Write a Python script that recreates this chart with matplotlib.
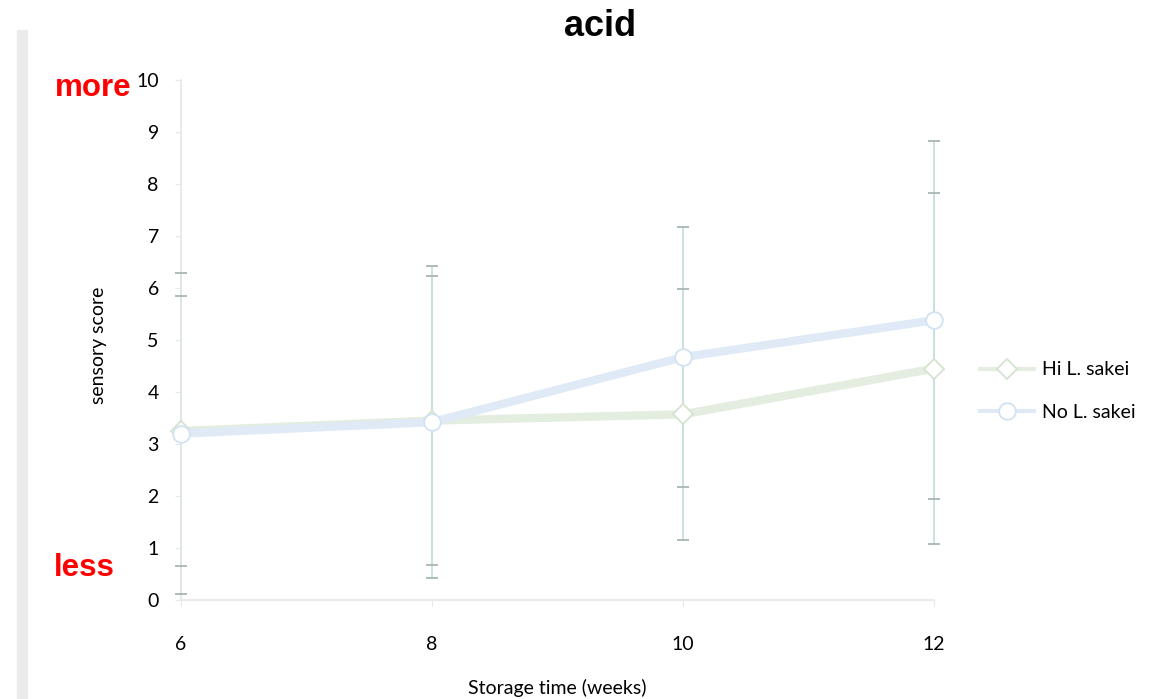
import numpy as np
import matplotlib.pyplot as plt
from matplotlib.patches import Rectangle
from matplotlib.lines import Line2D

# data
weeks = [6, 8, 10, 12]
hi_mean = [3.25, 3.45, 3.57, 4.45]
hi_err = [2.6, 2.78, 2.41, 3.37]
no_mean = [3.2, 3.42, 4.67, 5.38]
no_err = [3.09, 3.0, 2.5, 3.44]
series_names = ['Hi L. sakei', 'No L. sakei']

green = '#e3ede0'
blue = '#dfeaf6'
bar_col = '#cadfe0'
cap_col = '#a2b0b0'

fig = plt.figure(figsize=(11.53, 6.99), dpi=100)
ax = fig.add_axes([181/1153, 1 - 600/699, (934 - 181)/1153, 520/699])

# error bars first
for m, e in [(hi_mean, hi_err), (no_mean, no_err)]:
    ax.errorbar(weeks, m, yerr=e, fmt='none', ecolor=bar_col, elinewidth=1.3,
                capsize=0, zorder=2, clip_on=False)
    lo = np.array(m) - np.array(e)
    hi = np.array(m) + np.array(e)
    ax.hlines(np.concatenate([lo, hi]), np.array(weeks * 2) - 0.045, np.array(weeks * 2) + 0.045,
              color=cap_col, lw=1.2, zorder=3, clip_on=False)

ax.plot(weeks, hi_mean, color=green, lw=6, marker='D', markersize=10,
        markerfacecolor='white', markeredgecolor='#d3e3cf', markeredgewidth=1.3,
        zorder=4, clip_on=False)
ax.plot(weeks, no_mean, color=blue, lw=6, marker='o', markersize=12,
        markerfacecolor='white', markeredgecolor='#d2e2f2', markeredgewidth=1.3,
        zorder=5, clip_on=False)

ax.set_xlim(6, 12)
ax.set_ylim(0, 10)
ax.set_xticks(weeks)
ax.set_yticks(range(0, 11))
for s in ['top', 'right']:
    ax.spines[s].set_visible(False)
for s in ['left', 'bottom']:
    ax.spines[s].set_color('#e4e8e8')
    ax.spines[s].set_linewidth(1.2)
ax.tick_params(axis='y', length=4, color='#e4e8e8', pad=12, labelsize=14)
ax.tick_params(axis='x', length=4, color='#e4e8e8', pad=22, labelsize=14)
for lab in ax.get_xticklabels() + ax.get_yticklabels():
    lab.set_fontfamily('Lato')

ax.set_ylabel('sensory score', fontsize=14, fontfamily='Lato')
ax.yaxis.set_label_coords(-(181 - 107) / 753, (600 - 345) / 520)
ax.set_xlabel('Storage time (weeks)', fontsize=14, fontfamily='Lato', va='center')
ax.xaxis.set_label_coords((557 - 181) / 753, -(688 - 600) / 520)

fig.text(600/1153, 1 - 27/699, 'acid', ha='center', va='center', fontsize=26,
         fontweight='bold', fontfamily='Liberation Sans')
fig.text(55/1153, 1 - 88/699, 'more', ha='left', va='center', fontsize=22.5,
         fontweight='bold', color='red', fontfamily='Liberation Sans')
fig.text(54/1153, 1 - 568/699, 'less', ha='left', va='center', fontsize=22.5,
         fontweight='bold', color='red', fontfamily='Liberation Sans')

# grey strip on the left
fig.patches.append(Rectangle((17/1153, 0), 10/1153, 1 - 30/699, transform=fig.transFigure,
                             color='#ebebeb', zorder=0))

handles = [
    Line2D([], [], color=green, lw=3, marker='D', markersize=10, markerfacecolor='white',
           markeredgecolor='#d3e3cf', markeredgewidth=1.3),
    Line2D([], [], color=blue, lw=3, marker='o', markersize=12, markerfacecolor='white',
           markeredgecolor='#d2e2f2', markeredgewidth=1.3),
]
leg = fig.legend(handles, series_names, loc='center left', bbox_to_anchor=(980/1153, 1 - 391/699),
                 frameon=False, handlelength=2.8, handletextpad=0.4, labelspacing=1.3,
                 borderpad=0, borderaxespad=0, prop={'family': 'Lato', 'size': 14})

fig.savefig('out.png', dpi=100)
